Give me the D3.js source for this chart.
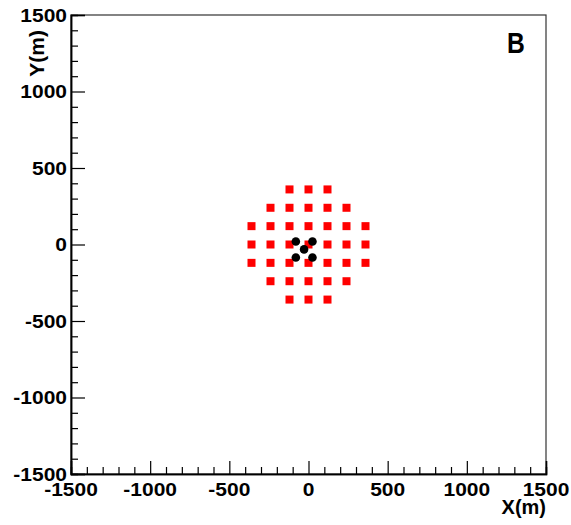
<!DOCTYPE html>
<html>
<head>
<meta charset="utf-8">
<script src="https://cdn.jsdelivr.net/npm/d3@7"></script>
<style>
  html, body { margin: 0; padding: 0; background: #fff; }
  text { font-family: "Liberation Sans", Arial, Helvetica, sans-serif; font-weight: bold; fill: #000; }
</style>
</head>
<body>
<svg id="chart" width="571" height="525"></svg>
<script>
// Detector layout: red squares are the outer array, black dots the inner stations.
const squareRows = [
  { y: 360,  xs: [-120, 0, 120] },
  { y: 240,  xs: [-240, -120, 0, 120, 240] },
  { y: 120,  xs: [-360, -240, -120, 0, 120, 240, 360] },
  { y: 0,    xs: [-360, -240, -120, 0, 120, 240, 360] },
  { y: -120, xs: [-360, -240, -120, 0, 120, 240, 360] },
  { y: -240, xs: [-240, -120, 0, 120, 240] },
  { y: -360, xs: [-120, 0, 120] }
];
const dotX = [-80, 25, -28, -80, 25];
const dotY = [20, 20, -32, -85, -85];
const majorTicks = [-1500, -1000, -500, 0, 500, 1000, 1500];
const xTitle = "X(m)";
const yTitle = "Y(m)";
const panelLabel = "B";

const svg = d3.select("#chart");
const frame = { left: 71, right: 546, top: 15, bottom: 474 };

const x = d3.scaleLinear().domain([-1500, 1500]).range([frame.left, frame.right]);
const y = d3.scaleLinear().domain([-1500, 1500]).range([frame.bottom, frame.top]);

// frame
svg.append("rect")
  .attr("x", frame.left).attr("y", frame.top)
  .attr("width", frame.right - frame.left).attr("height", frame.bottom - frame.top)
  .attr("fill", "none").attr("stroke", "#333").attr("stroke-width", 1.2);

const minorTicks = d3.range(-1500, 1501, 100).filter(v => v % 500 !== 0);

// bottom axis
const gx = svg.append("g").attr("transform", `translate(0,${frame.bottom})`);
gx.call(d3.axisTop(x).tickValues(majorTicks).tickSize(13).tickFormat(""));
gx.append("g").call(d3.axisTop(x).tickValues(minorTicks).tickSize(7).tickFormat(""));
gx.selectAll(".domain").attr("stroke", "#000").attr("stroke-width", 1.5);
gx.selectAll(".tick line").attr("stroke", "#000").attr("stroke-width", 1.2);
gx.selectAll(".label").data(majorTicks).enter().append("text")
  .attr("class", "label")
  .attr("transform", d => `translate(${x(d)},21.5) scale(1,0.9)`)
  .attr("text-anchor", "middle")
  .attr("font-size", 21)
  .text(d => d);

// left axis
const gy = svg.append("g").attr("transform", `translate(${frame.left},0)`);
gy.call(d3.axisRight(y).tickValues(majorTicks).tickSize(14).tickFormat(""));
gy.append("g").call(d3.axisRight(y).tickValues(minorTicks).tickSize(7).tickFormat(""));
gy.selectAll(".domain").attr("stroke", "#000").attr("stroke-width", 1.5);
gy.selectAll(".tick line").attr("stroke", "#000").attr("stroke-width", 1.2);
gy.selectAll(".label").data(majorTicks).enter().append("text")
  .attr("class", "label")
  .attr("transform", d => `translate(-4,${y(d) + 6.5}) scale(1,0.9)`)
  .attr("text-anchor", "end")
  .attr("font-size", 21)
  .text(d => d);

// axis titles
svg.append("text")
  .attr("x", frame.right).attr("y", 514)
  .attr("text-anchor", "end").attr("font-size", 20)
  .text(xTitle);
svg.append("text")
  .attr("transform", "translate(44,30) rotate(-90)")
  .attr("text-anchor", "end").attr("font-size", 21)
  .text(yTitle);

// panel label
svg.append("text")
  .attr("transform", "translate(507,53) scale(0.85,1)")
  .attr("font-size", 29)
  .text(panelLabel);

// red squares
const squares = squareRows.flatMap(r => r.xs.map(xv => ({ x: xv, y: r.y })));
const sq = 8;
svg.append("g").selectAll("rect").data(squares).enter().append("rect")
  .attr("x", d => x(d.x) - sq / 2).attr("y", d => y(d.y) - sq / 2)
  .attr("width", sq).attr("height", sq)
  .attr("fill", "#ff0000");

// black dots
svg.append("g").selectAll("circle").data(dotX.map((v, i) => ({ x: v, y: dotY[i] }))).enter()
  .append("circle")
  .attr("cx", d => x(d.x)).attr("cy", d => y(d.y))
  .attr("r", 4.3).attr("fill", "#000");
</script>
</body>
</html>
